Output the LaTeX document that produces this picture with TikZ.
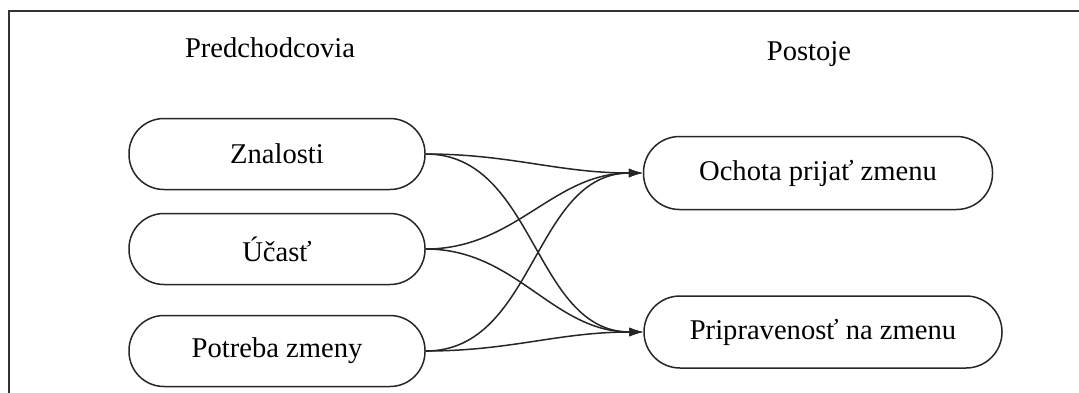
\documentclass[tikz,border=0pt]{standalone}
\usepackage{fontspec}
\setmainfont{Liberation Serif}
\usetikzlibrary{arrows.meta}
\begin{document}
\begin{tikzpicture}[x=0.5pt,y=-0.5pt,
  every node/.style={font=\fontsize{14.3}{17}\selectfont, text=black},
  pill/.style={draw=black!85, line width=0.75pt, rounded corners=17.5pt, inner sep=0pt, minimum height=35.5pt},
  conn/.style={draw=black!85, line width=0.75pt, -{Latex[length=7pt,width=4.5pt]}, out=0, in=180},
  title/.style={anchor=base}]
\useasboundingbox (0,0) rectangle (1079,392);
\draw[line width=0.8pt, black!80] (1085,11) -- (9,11) -- (9,400);
\node[title] (t1) at (270,57) {Predchodcovia};
\node[title] (t2) at (809,60) {Postoje};
\node[pill, minimum width=148pt] (zn) at (277,154) {Znalosti};
\node[pill, minimum width=148pt] (uc) at (277,249) {Účasť};
\node[pill, minimum width=148pt] (po) at (277,351) {Potreba zmeny};
\node[pill, minimum width=174.5pt, minimum height=36.5pt, rounded corners=18pt] (oc) at (818,173) {Ochota prijať zmenu};
\node[pill, minimum width=179pt, minimum height=36pt, rounded corners=18pt] (pr) at (823,332) {Pripravenosť na zmenu};
\draw[conn] (zn.east) to (oc.west);
\draw[conn] (zn.east) to (pr.west);
\draw[conn] (uc.east) to (oc.west);
\draw[conn] (uc.east) to (pr.west);
\draw[conn] (po.east) to (oc.west);
\draw[conn] (po.east) to (pr.west);
\end{tikzpicture}
\end{document}
